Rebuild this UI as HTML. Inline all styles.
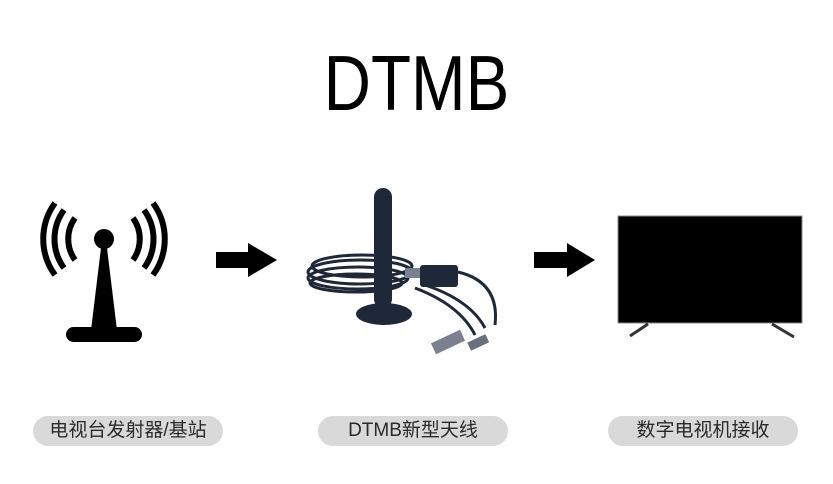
<!DOCTYPE html>
<html><head><meta charset="utf-8"><style>
body{margin:0;width:833px;height:484px;background:#fff;overflow:hidden;position:relative;font-family:"Liberation Sans","Noto Sans CJK SC",sans-serif}
.t{position:absolute;left:0;width:833px;top:38px;text-align:center;font-size:78px;line-height:90px;color:#000}
.t span{display:inline-block;transform:scaleX(0.84)}
.p{position:absolute;top:416px;height:30px;width:190px;border-radius:15px;background:#d9d9d9;color:#2a2a2a;font-size:19px;line-height:30px;text-align:center}
</style></head><body>
<div class="t"><span>DTMB</span></div>
<svg width="833" height="484" style="position:absolute;left:0;top:0">
<g fill="none" stroke="#000" stroke-width="6">
<path d="M75,218 A36,36 0 0 0 75,260"/><path d="M64,210 A49,49 0 0 0 64,268"/><path d="M55,203 A61,61 0 0 0 55,275"/>
<path d="M133,218 A36,36 0 0 1 133,260"/><path d="M144,210 A49,49 0 0 1 144,268"/><path d="M153,203 A61,61 0 0 1 153,275"/>
</g>
<circle cx="104" cy="239" r="10"/>
<polygon points="101,248 107,248 117,330 91,330"/>
<rect x="66" y="327" width="76" height="15" rx="7.5"/>
<polygon points="216,252 248,252 248,243 277,260 248,277 248,268 216,268"/>
<polygon points="534,252 567,252 567,243 595,260 567,277 567,268 534,268"/>
<rect x="618" y="216" width="184" height="107" fill="#000" stroke="#888" stroke-width="1"/>
<path d="M648,324 L630,336 M772,324 L794,337" stroke="#333" stroke-width="3"/>
<g fill="none" stroke="#1e2838" stroke-width="3">
<ellipse cx="362" cy="266" rx="50" ry="11"/><ellipse cx="360" cy="272" rx="52" ry="12"/><ellipse cx="358" cy="278" rx="50" ry="11"/><ellipse cx="356" cy="283" rx="46" ry="9"/>
<path d="M425,285 Q470,300 485,328 M415,288 Q460,305 475,335 M458,272 Q500,282 495,325"/>
</g>
<rect x="374" y="188" width="18" height="120" rx="9" fill="#1f2838"/>
<ellipse cx="384" cy="314" rx="28" ry="11" fill="#1f2838"/>
<rect x="420" y="265" width="38" height="22" rx="3" fill="#1f2838"/>
<rect x="405" y="268" width="15" height="10" fill="#7a8090"/>
<rect x="432" y="336" width="32" height="12" fill="#7a8090" transform="rotate(-25 448 342)"/>
<rect x="468" y="338" width="20" height="9" fill="#6a707e" transform="rotate(-25 478 342)"/>
</svg>
<div class="p" style="left:33px">电视台发射器/基站</div>
<div class="p" style="left:318px">DTMB新型天线</div>
<div class="p" style="left:608px">数字电视机接收</div>
</body></html>
